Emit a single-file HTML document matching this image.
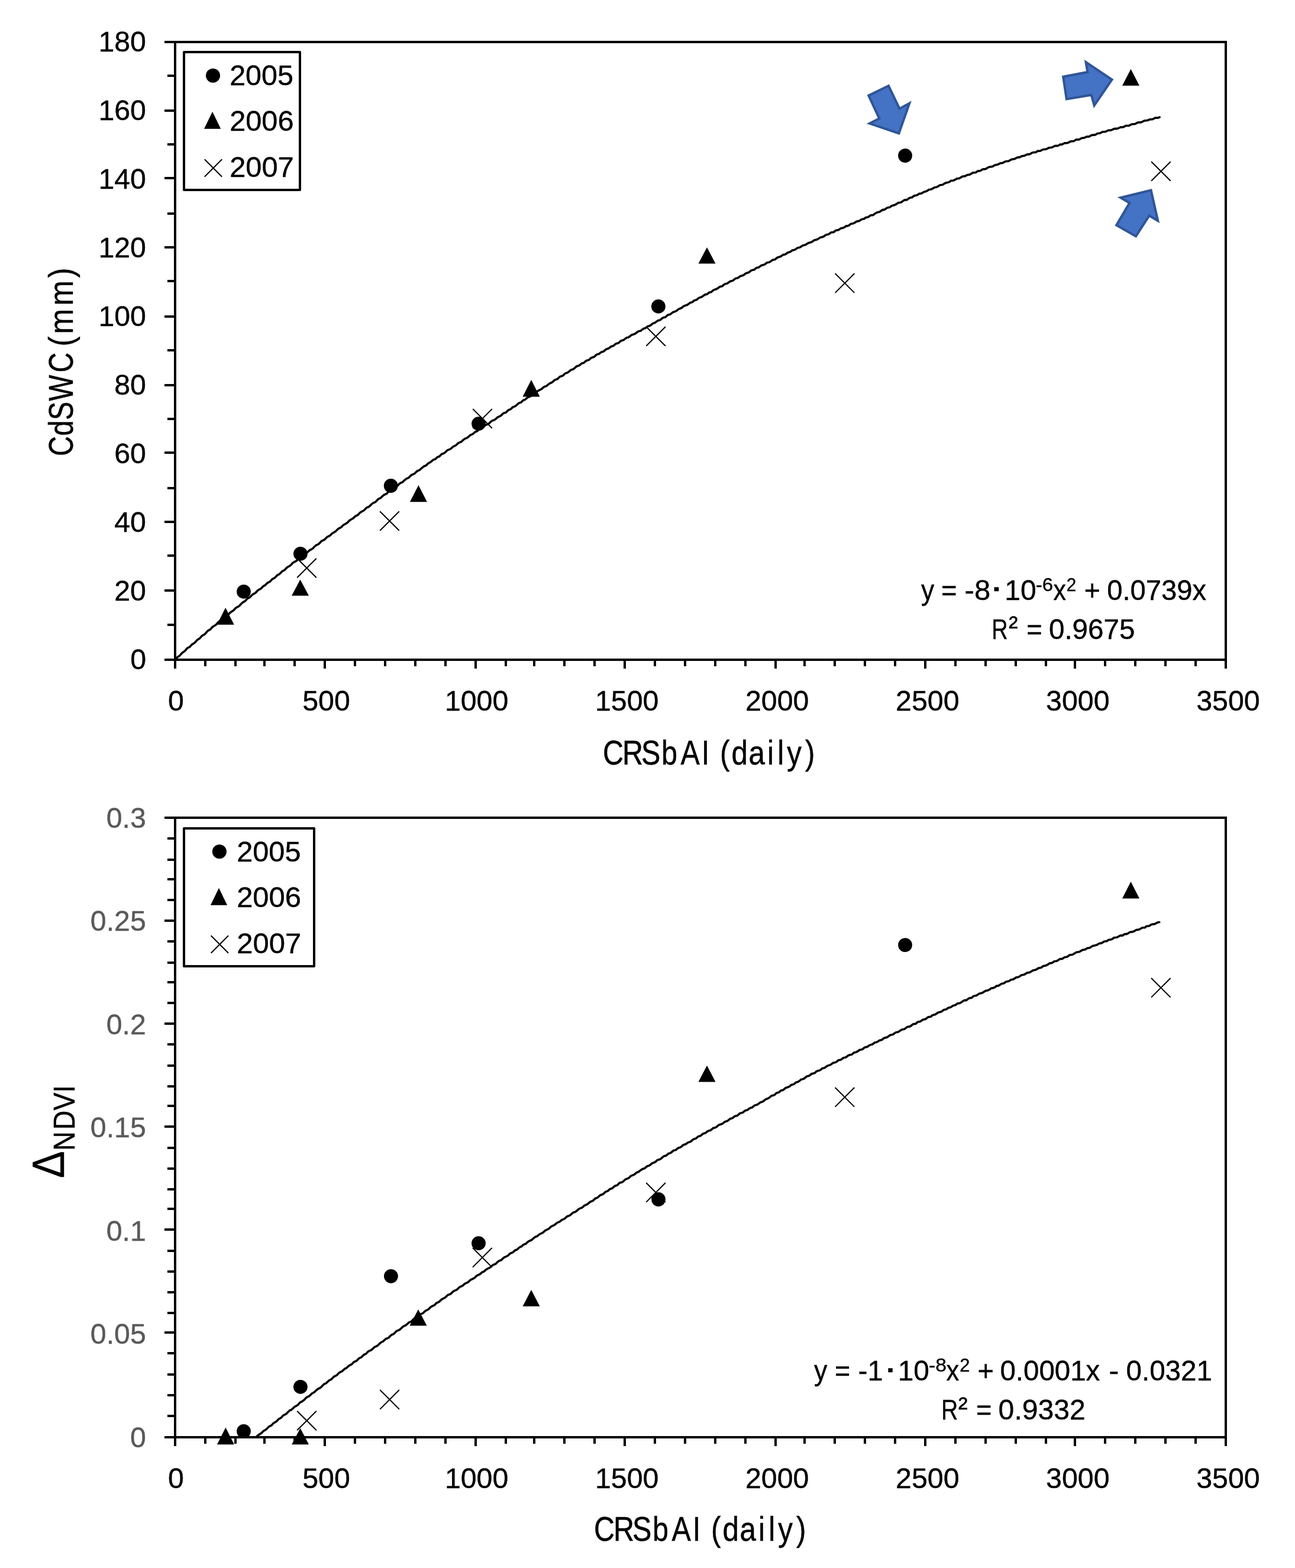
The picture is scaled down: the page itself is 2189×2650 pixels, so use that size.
<!DOCTYPE html>
<html lang="en"><head><meta charset="utf-8"><title>CdSWC and NDVI change versus CRSbAI</title>
<style>html,body{margin:0;padding:0;background:#fff;}body{width:2189px;height:2650px;overflow:hidden;}svg{display:block;}text{font-family:"Liberation Sans", sans-serif;}</style>
</head><body>
<svg width="2189" height="2650" viewBox="0 0 2189 2650">
<rect width="2189" height="2650" fill="#fff"/>
<g stroke="#000" stroke-width="4">
<line x1="296" y1="69" x2="296" y2="1130"/>
<line x1="2072" y1="69" x2="2072" y2="1130"/>
<line x1="278" y1="71" x2="2074" y2="71"/>
<line x1="278" y1="1115" x2="2074" y2="1115"/>
<line x1="283" y1="128" x2="296" y2="128"/>
<line x1="278" y1="187" x2="296" y2="187"/>
<line x1="283" y1="244" x2="296" y2="244"/>
<line x1="278" y1="301" x2="296" y2="301"/>
<line x1="283" y1="361" x2="296" y2="361"/>
<line x1="278" y1="418" x2="296" y2="418"/>
<line x1="283" y1="475" x2="296" y2="475"/>
<line x1="278" y1="535" x2="296" y2="535"/>
<line x1="283" y1="592" x2="296" y2="592"/>
<line x1="278" y1="651" x2="296" y2="651"/>
<line x1="283" y1="708" x2="296" y2="708"/>
<line x1="278" y1="765" x2="296" y2="765"/>
<line x1="283" y1="825" x2="296" y2="825"/>
<line x1="278" y1="882" x2="296" y2="882"/>
<line x1="283" y1="939" x2="296" y2="939"/>
<line x1="278" y1="998" x2="296" y2="998"/>
<line x1="283" y1="1056" x2="296" y2="1056"/>
<line x1="347" y1="1115" x2="347" y2="1126"/>
<line x1="398" y1="1115" x2="398" y2="1126"/>
<line x1="447" y1="1115" x2="447" y2="1126"/>
<line x1="498" y1="1115" x2="498" y2="1126"/>
<line x1="549" y1="1115" x2="549" y2="1130"/>
<line x1="600" y1="1115" x2="600" y2="1126"/>
<line x1="651" y1="1115" x2="651" y2="1126"/>
<line x1="702" y1="1115" x2="702" y2="1126"/>
<line x1="753" y1="1115" x2="753" y2="1126"/>
<line x1="804" y1="1115" x2="804" y2="1130"/>
<line x1="855" y1="1115" x2="855" y2="1126"/>
<line x1="903" y1="1115" x2="903" y2="1126"/>
<line x1="954" y1="1115" x2="954" y2="1126"/>
<line x1="1005" y1="1115" x2="1005" y2="1126"/>
<line x1="1056" y1="1115" x2="1056" y2="1130"/>
<line x1="1107" y1="1115" x2="1107" y2="1126"/>
<line x1="1158" y1="1115" x2="1158" y2="1126"/>
<line x1="1209" y1="1115" x2="1209" y2="1126"/>
<line x1="1260" y1="1115" x2="1260" y2="1126"/>
<line x1="1311" y1="1115" x2="1311" y2="1130"/>
<line x1="1360" y1="1115" x2="1360" y2="1126"/>
<line x1="1411" y1="1115" x2="1411" y2="1126"/>
<line x1="1462" y1="1115" x2="1462" y2="1126"/>
<line x1="1513" y1="1115" x2="1513" y2="1126"/>
<line x1="1564" y1="1115" x2="1564" y2="1130"/>
<line x1="1615" y1="1115" x2="1615" y2="1126"/>
<line x1="1666" y1="1115" x2="1666" y2="1126"/>
<line x1="1717" y1="1115" x2="1717" y2="1126"/>
<line x1="1768" y1="1115" x2="1768" y2="1126"/>
<line x1="1817" y1="1115" x2="1817" y2="1130"/>
<line x1="1868" y1="1115" x2="1868" y2="1126"/>
<line x1="1919" y1="1115" x2="1919" y2="1126"/>
<line x1="1970" y1="1115" x2="1970" y2="1126"/>
<line x1="2021" y1="1115" x2="2021" y2="1126"/>
</g>
<g stroke="#000" stroke-width="0.4">
<text x="166.39" y="87.4" font-size="48.8" textLength="80.61" lengthAdjust="spacingAndGlyphs">180</text>
<text x="166.39" y="203.4" font-size="48.8" textLength="80.61" lengthAdjust="spacingAndGlyphs">160</text>
<text x="166.39" y="319.4" font-size="48.8" textLength="80.61" lengthAdjust="spacingAndGlyphs">140</text>
<text x="166.39" y="435.4" font-size="48.8" textLength="80.61" lengthAdjust="spacingAndGlyphs">120</text>
<text x="166.39" y="551.4" font-size="48.8" textLength="80.61" lengthAdjust="spacingAndGlyphs">100</text>
<text x="193.26" y="667.4" font-size="48.8" textLength="53.74" lengthAdjust="spacingAndGlyphs">80</text>
<text x="193.26" y="783.4" font-size="48.8" textLength="53.74" lengthAdjust="spacingAndGlyphs">60</text>
<text x="193.26" y="899.4" font-size="48.8" textLength="53.74" lengthAdjust="spacingAndGlyphs">40</text>
<text x="193.26" y="1015.4" font-size="48.8" textLength="53.74" lengthAdjust="spacingAndGlyphs">20</text>
<text x="220.13" y="1131.4" font-size="48.8" textLength="26.87" lengthAdjust="spacingAndGlyphs">0</text>
</g>
<g stroke="#000" stroke-width="0.4">
<text x="284.07" y="1201.4" font-size="48.8" textLength="26.87" lengthAdjust="spacingAndGlyphs">0</text>
<text x="511.26" y="1201.4" font-size="48.8" textLength="80.61" lengthAdjust="spacingAndGlyphs">500</text>
<text x="751.88" y="1201.4" font-size="48.8" textLength="107.48" lengthAdjust="spacingAndGlyphs">1000</text>
<text x="1005.94" y="1201.4" font-size="48.8" textLength="107.48" lengthAdjust="spacingAndGlyphs">1500</text>
<text x="1260" y="1201.4" font-size="48.8" textLength="107.48" lengthAdjust="spacingAndGlyphs">2000</text>
<text x="1514.06" y="1201.4" font-size="48.8" textLength="107.48" lengthAdjust="spacingAndGlyphs">2500</text>
<text x="1768.12" y="1201.4" font-size="48.8" textLength="107.48" lengthAdjust="spacingAndGlyphs">3000</text>
<text x="2022.18" y="1201.4" font-size="48.8" textLength="107.48" lengthAdjust="spacingAndGlyphs">3500</text>
</g>
<text transform="translate(0 1291.6) scale(0.8501 1)" x="1198.73 1237.39 1275.01 1315.11 1353.24 1394.91" y="0" font-size="57" stroke="#000" stroke-width="0.5">CRSbAI</text>
<text transform="translate(0 1291.6) scale(0.8654 1)" x="1406.4 1428.84 1462.37 1498.62 1518.67 1537.24 1572.74" y="0" font-size="57" stroke="#000" stroke-width="0.5">(daily)</text>
<polyline points="296.5,1114.2 298.9,1111.6 301.2,1109.8 303.6,1108.1 306.0,1105.5 308.3,1103.0 310.7,1101.6 313.1,1099.6 315.4,1096.7 317.8,1094.7 320.2,1093.7 322.6,1091.3 324.9,1088.8 327.3,1087.6 329.7,1085.7 332.0,1083.1 334.3,1080.7 336.6,1079.7 338.9,1077.4 341.3,1074.8 343.6,1073.2 345.9,1072.1 348.2,1069.5 350.5,1066.8 353.0,1065.0 355.4,1064.0 357.9,1060.9 360.4,1058.7 362.9,1057.2 365.3,1055.7 367.8,1052.7 370.2,1050.4 372.5,1049.3 374.9,1047.9 377.2,1045.3 379.6,1043.0 381.9,1041.3 384.3,1040.1 386.6,1038.0 389.0,1035.5 391.3,1033.6 393.7,1032.4 396.0,1030.3 398.3,1027.7 400.6,1026.2 402.9,1025.1 405.2,1023.3 407.5,1020.7 409.8,1018.5 412.1,1017.1 414.4,1015.7 416.7,1013.1 419.0,1011.2 421.3,1010.2 423.6,1008.3 425.9,1005.6 428.2,1003.9 430.5,1002.9 432.8,1001.0 435.1,998.3 437.4,996.6 439.8,995.6 442.1,993.8 444.4,991.2 446.7,989.9 449.0,988.3 451.3,985.8 453.6,984.3 455.9,983.2 458.2,980.9 460.5,978.5 462.8,977.6 465.1,976.0 467.4,973.6 469.7,971.4 472.0,970.6 474.3,968.3 476.6,965.9 478.9,964.5 481.2,963.2 483.5,960.7 485.8,958.6 488.1,957.3 490.4,956.0 492.7,953.9 495.0,951.2 497.4,949.7 499.7,948.8 502.0,947.0 504.3,944.6 506.8,942.8 509.2,941.5 511.7,939.1 514.2,936.5 516.7,935.2 519.1,934.0 521.6,931.4 524.1,929.5 526.5,928.4 529.0,926.6 531.4,924.0 533.9,921.7 536.3,920.7 538.8,919.2 541.1,917.1 543.4,914.5 545.7,913.3 548.0,912.3 550.4,910.2 552.7,907.6 555.0,906.5 557.3,905.5 559.6,903.4 562.1,901.0 564.5,899.8 567.0,898.3 569.4,896.0 571.9,893.5 574.3,892.4 576.8,891.0 579.4,888.3 582.0,886.4 584.7,885.0 587.3,883.2 589.9,880.5 592.3,878.5 594.6,877.3 597.0,875.9 599.4,873.4 601.7,871.8 604.1,870.9 606.4,868.8 608.8,866.2 611.2,864.7 613.5,863.6 615.9,861.9 618.3,859.2 620.6,857.4 623.0,856.7 625.3,855.0 627.7,852.5 630.0,850.5 632.4,849.3 634.7,848.3 637.1,845.8 639.4,843.4 641.8,842.4 644.2,841.0 646.5,838.6 648.9,836.5 651.3,835.4 653.6,834.3 656.0,831.6 658.3,829.7 660.7,828.2 663.1,827.4 665.4,825.3 667.8,822.7 670.2,821.3 672.5,820.5 674.9,817.7 677.3,816.1 679.7,815.3 682.0,813.3 684.4,811.0 686.8,809.2 689.1,808.2 691.4,806.9 693.7,804.4 696.0,802.4 698.3,801.7 700.6,800.5 702.9,798.3 705.2,796.0 707.5,795.2 709.8,794.0 712.1,791.8 714.4,789.8 716.7,788.0 719.0,787.3 721.3,785.7 723.6,783.2 725.9,781.9 728.2,780.8 730.5,778.6 732.8,776.8 735.1,776.3 737.4,774.3 739.8,772.3 742.1,771.8 744.4,769.7 746.7,767.3 749.0,766.7 751.3,765.5 753.6,763.5 755.9,761.2 758.2,760.1 760.5,759.3 762.8,757.8 765.1,755.5 767.4,754.1 769.7,753.1 772.0,751.3 774.3,749.0 776.6,747.8 778.9,747.1 781.2,745.3 783.5,743.1 785.8,741.4 788.1,740.7 790.4,739.5 792.7,737.3 795.0,735.3 797.3,734.5 799.6,733.2 802.0,731.0 804.3,729.4 806.6,728.7 808.9,726.5 811.2,724.4 813.5,723.5 815.8,722.6 818.1,720.8 820.4,718.4 822.7,717.6 825.0,716.8 827.3,715.0 829.6,712.8 831.9,711.1 834.2,710.3 836.5,709.2 838.8,707.4 841.1,705.2 843.5,704.1 845.8,703.0 848.1,701.1 850.4,698.9 852.7,697.7 855.0,697.2 857.3,695.0 859.6,692.8 861.9,692.3 864.2,690.7 866.5,688.3 868.8,687.4 871.1,686.4 873.4,684.6 875.8,682.2 878.1,680.8 880.5,680.2 882.8,677.9 885.2,676.1 887.5,675.5 889.9,673.4 892.3,671.3 894.6,670.6 897.0,669.5 899.4,666.8 901.7,665.7 904.1,664.7 906.4,663.2 908.8,661.0 911.2,659.5 913.5,658.5 915.9,657.1 918.3,654.9 920.6,653.3 923.0,652.8 925.3,651.1 927.7,649.0 930.0,647.5 932.4,646.7 934.7,644.8 937.1,642.6 939.4,641.5 941.8,640.8 944.2,638.7 946.5,636.5 948.9,635.8 951.3,635.1 953.6,632.7 956.0,630.8 958.3,630.2 960.7,628.8 963.1,626.8 965.4,624.9 967.8,624.4 970.2,623.2 972.5,621.0 974.9,619.0 977.2,618.3 979.6,617.5 981.9,615.2 984.3,613.8 986.6,613.5 989.0,611.2 991.3,609.5 993.7,608.8 996.1,607.8 998.4,605.4 1000.8,604.2 1003.1,603.6 1005.5,602.1 1007.8,599.7 1010.2,598.7 1012.5,598.2 1014.9,596.0 1017.2,594.8 1019.6,594.2 1022.0,592.5 1024.3,590.4 1026.7,589.5 1029.0,588.7 1031.4,586.8 1033.7,585.2 1036.1,584.8 1038.4,583.2 1040.8,581.1 1043.1,580.2 1045.5,579.7 1047.9,577.5 1050.2,575.6 1052.6,575.2 1054.9,574.1 1057.3,572.0 1059.6,570.5 1062.0,570.2 1064.3,568.8 1066.7,566.7 1069.0,565.6 1071.4,565.0 1073.8,563.8 1076.2,562.0 1078.5,560.2 1080.9,559.6 1083.3,558.9 1085.7,556.9 1088.0,555.3 1090.4,554.8 1092.8,553.2 1095.2,551.3 1097.7,550.9 1100.1,549.6 1102.5,547.3 1104.9,546.0 1107.3,545.4 1109.8,543.4 1112.2,541.7 1114.6,541.2 1117.0,540.1 1119.3,537.8 1121.7,536.6 1124.1,536.3 1126.4,534.5 1128.8,532.2 1131.1,531.9 1133.5,530.8 1135.9,528.9 1138.2,527.2 1140.6,526.7 1143.0,525.7 1145.3,523.8 1147.7,522.1 1150.0,521.2 1152.4,520.3 1154.7,518.1 1157.1,516.7 1159.4,516.0 1161.8,515.2 1164.1,513.6 1166.5,511.6 1168.8,511.2 1171.2,509.9 1173.5,507.8 1175.9,507.3 1178.2,506.2 1180.5,504.0 1182.9,502.8 1185.2,502.3 1187.6,500.9 1189.9,499.1 1192.3,497.6 1194.6,497.4 1197.0,495.8 1199.4,494.0 1201.7,493.8 1204.1,491.8 1206.4,490.1 1208.8,489.3 1211.2,488.6 1213.5,487.0 1215.9,485.1 1218.3,484.1 1220.6,483.8 1223.0,481.7 1225.3,479.9 1227.7,479.4 1230.0,478.7 1232.4,476.7 1234.7,475.2 1237.1,474.8 1239.4,473.8 1241.8,471.7 1244.2,470.2 1246.5,470.0 1248.9,468.6 1251.3,466.8 1253.6,466.1 1256.0,465.5 1258.3,463.9 1260.7,461.9 1263.1,461.2 1265.4,460.5 1267.8,458.7 1270.2,456.9 1272.5,456.2 1274.9,456.0 1277.2,453.8 1279.6,452.3 1281.9,452.2 1284.3,450.6 1286.6,448.8 1289.0,448.0 1291.3,447.5 1293.7,446.1 1296.1,444.0 1298.4,443.6 1300.8,443.1 1303.1,441.4 1305.5,439.6 1307.8,439.0 1310.2,438.5 1312.5,436.4 1314.9,434.9 1317.2,434.2 1319.6,433.6 1322.0,431.7 1324.3,430.4 1326.7,430.1 1329.0,428.9 1331.4,427.0 1333.7,426.2 1336.1,425.6 1338.4,423.5 1340.8,422.6 1343.1,422.3 1345.5,420.8 1347.9,419.1 1350.2,418.6 1352.6,417.8 1354.9,416.2 1357.3,414.7 1359.6,414.2 1362.0,413.5 1364.3,411.9 1366.7,410.5 1369.0,409.9 1371.4,409.3 1373.8,407.9 1376.1,406.1 1378.5,405.4 1380.9,404.8 1383.2,403.6 1385.6,401.9 1387.9,401.0 1390.3,400.5 1392.7,399.5 1395.0,397.7 1397.4,396.5 1399.8,396.2 1402.1,395.0 1404.5,393.0 1406.8,392.6 1409.2,392.4 1411.5,390.3 1413.9,389.0 1416.2,389.0 1418.6,387.9 1420.9,386.1 1423.3,385.4 1425.7,384.9 1428.0,383.9 1430.4,381.7 1432.7,381.9 1435.1,380.9 1437.4,378.9 1439.8,378.0 1442.1,377.7 1444.5,376.6 1446.8,375.0 1449.2,373.9 1451.6,373.7 1453.9,372.5 1456.3,370.8 1458.6,370.3 1461.0,369.7 1463.3,367.6 1465.7,367.3 1468.0,366.7 1470.4,364.7 1472.7,363.5 1475.1,363.8 1477.6,362.2 1480.0,360.3 1482.5,359.0 1485.0,358.5 1487.4,357.8 1489.9,355.9 1492.3,354.4 1494.6,354.6 1497.0,353.0 1499.4,351.3 1501.7,350.8 1504.1,350.3 1506.4,348.4 1508.8,347.3 1511.2,346.9 1513.5,345.9 1515.9,344.4 1518.3,342.7 1520.6,342.4 1523.0,341.9 1525.3,340.4 1527.7,338.7 1530.0,337.8 1532.4,337.9 1534.7,336.4 1537.1,334.7 1539.4,333.9 1541.8,333.7 1544.2,331.5 1546.5,330.5 1548.9,330.2 1551.3,329.2 1553.6,327.4 1556.0,327.2 1558.3,326.5 1560.7,324.9 1563.1,323.9 1565.4,323.5 1567.8,322.1 1570.2,320.5 1572.5,320.2 1574.9,319.6 1577.2,318.2 1579.6,316.8 1581.9,316.4 1584.3,315.8 1586.6,314.2 1589.0,312.7 1591.3,312.5 1593.7,312.1 1596.1,310.4 1598.4,309.2 1600.8,308.5 1603.1,308.2 1605.5,307.0 1607.8,305.3 1610.2,305.2 1612.5,304.8 1614.9,303.4 1617.2,301.9 1619.6,301.8 1622.0,301.3 1624.3,299.8 1626.7,298.3 1629.0,297.9 1631.4,297.7 1633.7,296.2 1636.1,295.4 1638.4,295.3 1640.8,294.4 1643.1,292.5 1645.5,291.8 1647.9,291.8 1650.2,291.1 1652.6,289.0 1654.9,289.1 1657.3,288.5 1659.6,286.9 1662.0,285.8 1664.3,285.9 1666.7,285.3 1669.0,283.7 1671.4,282.5 1673.8,281.9 1676.1,281.8 1678.5,281.1 1680.9,279.4 1683.2,278.6 1685.6,278.3 1687.9,277.5 1690.3,276.1 1692.7,275.6 1695.0,275.4 1697.4,273.8 1699.8,272.8 1702.1,272.5 1704.5,272.4 1706.8,271.2 1709.2,269.8 1711.5,269.0 1713.9,268.9 1716.2,268.0 1718.6,266.5 1720.9,265.9 1723.3,265.9 1725.7,264.7 1728.0,263.6 1730.4,263.5 1732.7,262.8 1735.1,261.4 1737.4,260.6 1739.8,260.9 1742.1,259.8 1744.5,258.3 1746.8,257.6 1749.2,257.5 1751.6,257.1 1753.9,255.1 1756.3,255.3 1758.6,255.0 1761.0,253.6 1763.3,252.5 1765.7,252.4 1768.0,252.2 1770.4,251.1 1772.7,249.9 1775.1,249.5 1777.5,249.3 1780.0,248.3 1782.4,246.9 1784.9,246.3 1787.3,246.6 1789.8,245.6 1792.2,243.9 1794.7,244.4 1797.1,243.1 1799.5,241.9 1801.9,241.7 1804.4,241.6 1806.8,240.5 1809.2,239.1 1811.7,238.8 1814.1,238.8 1816.5,237.7 1818.9,236.1 1821.4,235.8 1823.8,236.0 1826.2,234.6 1828.7,233.2 1831.1,233.1 1833.5,232.8 1836.0,231.2 1838.4,230.9 1840.8,231.0 1843.2,229.5 1845.7,228.4 1848.1,228.1 1850.5,228.1 1853.0,226.8 1855.4,225.5 1857.8,225.3 1860.2,224.8 1862.7,223.3 1865.1,222.7 1867.6,222.8 1870.1,222.0 1872.7,220.5 1875.2,220.1 1877.7,220.2 1880.2,219.2 1882.8,217.8 1885.3,217.4 1887.6,217.6 1889.9,217.0 1892.2,215.8 1894.5,214.8 1896.8,215.0 1899.2,214.6 1901.5,213.2 1903.8,212.4 1906.1,212.5 1908.4,212.4 1910.7,211.0 1913.0,210.1 1915.3,209.7 1917.6,209.8 1919.9,208.9 1922.2,207.5 1924.5,206.8 1926.8,206.9 1929.1,206.6 1931.4,205.5 1933.7,204.3 1936.0,203.8 1938.4,203.8 1940.8,203.1 1943.2,201.9 1945.6,201.7 1948.0,201.6 1950.5,200.4 1952.9,199.1 1955.3,199.2 1957.7,199.1 1960.1,198.0" fill="none" stroke="#000" stroke-width="3.6" stroke-linecap="round" stroke-linejoin="round"/>
<g fill="#000">
<circle cx="412" cy="999.9" r="11.9"/>
<circle cx="507.9" cy="935.9" r="11.9"/>
<circle cx="660.7" cy="821" r="11.9"/>
<circle cx="809" cy="716.1" r="11.9"/>
<circle cx="1112.9" cy="517.9" r="11.9"/>
<circle cx="1530" cy="263" r="11.9"/>
<polygon points="381.2,1026.9 395.7,1055.7 366.7,1055.7"/>
<polygon points="507.5,979.6 522,1006.8 493,1006.8"/>
<polygon points="707.4,820 721.9,848.3 692.9,848.3"/>
<polygon points="898,642.1 912.5,670.4 883.5,670.4"/>
<polygon points="1195,418.1 1209.5,445.6 1180.5,445.6"/>
<polygon points="1911.5,116.8 1926,144.8 1897,144.8"/>
</g>
<g fill="none" stroke="#000" stroke-width="2">
<path d="M502.2 943.7L534.8 976.3M502.2 976.3L534.8 943.7"/>
<path d="M642.2 864.2L674.8 896.8M642.2 896.8L674.8 864.2"/>
<path d="M799.2 691.1L831.8 723.7M799.2 723.7L831.8 691.1"/>
<path d="M1092.3 552.2L1124.9 584.8M1092.3 584.8L1124.9 552.2"/>
<path d="M1411.7 462.3L1444.3 494.9M1411.7 494.9L1444.3 462.3"/>
<path d="M1946.1 273.2L1978.7 305.8M1946.1 305.8L1978.7 273.2"/>
</g>
<rect x="311" y="88" width="196" height="233" fill="#fff" stroke="#000" stroke-width="4" stroke-linejoin="round"/>
<g fill="#000">
<circle cx="360" cy="127.7" r="12.05"/>
<polygon points="359.1,188.7 373.2,217.8 345,217.8"/>
</g>
<g fill="none" stroke="#000" stroke-width="2">
<path d="M345.8 269.3L375.2 298.7M345.8 298.7L375.2 269.3"/>
</g>
<g stroke="#000" stroke-width="0.4">
<text x="388.18" y="144" font-size="48.8" textLength="107.79" lengthAdjust="spacingAndGlyphs">2005</text>
<text x="388.17" y="221.3" font-size="48.8" textLength="108.31" lengthAdjust="spacingAndGlyphs">2006</text>
<text x="388.16" y="299.2" font-size="48.8" textLength="108.51" lengthAdjust="spacingAndGlyphs">2007</text>
</g>
<text transform="translate(123.2 0) rotate(-90) translate(0 0) scale(0.8228 1)" x="-936.71 -895.19 -862.89 -823.71 -765.17" y="0" font-size="57" stroke="#000" stroke-width="0.5">CdSWC</text>
<text transform="translate(123.2 0) rotate(-90) translate(0 0) scale(0.8954 1)" x="-653.9 -630.48 -576.76 -524.28" y="0" font-size="57" stroke="#000" stroke-width="0.5">(mm)</text>
<polygon points="1501.94,145.01 1468.21,161.41 1486.25,200.16 1469.85,208.66 1519.46,225.37 1537.3,174.53 1520.49,183.65" fill="#4472C4" stroke="#2F5597" stroke-width="4" stroke-linejoin="miter"/>
<polygon points="1797.17,129.69 1802.8,167.51 1844.73,160.44 1849.65,178.38 1879.58,134.51 1835.5,104.99 1838.37,121.8" fill="#4472C4" stroke="#2F5597" stroke-width="4" stroke-linejoin="miter"/>
<polygon points="1945.57,321.47 1894.01,333.98 1909.28,343.1 1887.14,380.51 1920.05,399.37 1942.6,364.52 1957.25,373.24" fill="#4472C4" stroke="#2F5597" stroke-width="4" stroke-linejoin="miter"/>
<text font-size="48.8" stroke="#000" stroke-width="0.4"><tspan x="1557.07" y="1013.9" textLength="22.22" lengthAdjust="spacingAndGlyphs">y</tspan> <tspan x="1590.88" y="1013.9" textLength="26.44" lengthAdjust="spacingAndGlyphs">=</tspan> <tspan x="1630.64" y="1013.9" textLength="43.57" lengthAdjust="spacingAndGlyphs">-8</tspan><tspan x="1672.11" y="1012.3" font-size="62" textLength="24.89" lengthAdjust="spacingAndGlyphs">·</tspan><tspan x="1698.35" y="1013.9" textLength="53.44" lengthAdjust="spacingAndGlyphs">10</tspan><tspan x="1750.76" y="998.9" font-size="32" textLength="29.08" lengthAdjust="spacingAndGlyphs">-6</tspan><tspan x="1780.58" y="1013.9" textLength="21.49" lengthAdjust="spacingAndGlyphs">x</tspan><tspan x="1802.72" y="998.9" font-size="32" textLength="16.47" lengthAdjust="spacingAndGlyphs">2</tspan> <tspan x="1832.63" y="1013.9" textLength="27.04" lengthAdjust="spacingAndGlyphs">+</tspan> <tspan x="1871.26" y="1013.9" textLength="167.84" lengthAdjust="spacingAndGlyphs">0.0739x</tspan></text>
<text font-size="48.8" stroke="#000" stroke-width="0.4"><tspan x="1676.19" y="1079.6" textLength="27.4" lengthAdjust="spacingAndGlyphs">R</tspan><tspan x="1704.96" y="1075" font-size="48.8" textLength="15.63" lengthAdjust="spacingAndGlyphs">²</tspan> <tspan x="1735.18" y="1079.6" textLength="26.44" lengthAdjust="spacingAndGlyphs">=</tspan> <tspan x="1772.94" y="1079.6" textLength="145.48" lengthAdjust="spacingAndGlyphs">0.9675</tspan></text>
<g stroke="#000" stroke-width="4">
<line x1="296" y1="1380" x2="296" y2="2444"/>
<line x1="2072" y1="1380" x2="2072" y2="2444"/>
<line x1="278" y1="1382" x2="2074" y2="1382"/>
<line x1="278" y1="2429" x2="2074" y2="2429"/>
<line x1="283" y1="1417" x2="296" y2="1417"/>
<line x1="283" y1="1453" x2="296" y2="1453"/>
<line x1="283" y1="1486" x2="296" y2="1486"/>
<line x1="283" y1="1521" x2="296" y2="1521"/>
<line x1="278" y1="1556" x2="296" y2="1556"/>
<line x1="283" y1="1591" x2="296" y2="1591"/>
<line x1="283" y1="1627" x2="296" y2="1627"/>
<line x1="283" y1="1660" x2="296" y2="1660"/>
<line x1="283" y1="1695" x2="296" y2="1695"/>
<line x1="278" y1="1730" x2="296" y2="1730"/>
<line x1="283" y1="1765" x2="296" y2="1765"/>
<line x1="283" y1="1801" x2="296" y2="1801"/>
<line x1="283" y1="1836" x2="296" y2="1836"/>
<line x1="283" y1="1869" x2="296" y2="1869"/>
<line x1="278" y1="1904" x2="296" y2="1904"/>
<line x1="283" y1="1940" x2="296" y2="1940"/>
<line x1="283" y1="1975" x2="296" y2="1975"/>
<line x1="283" y1="2010" x2="296" y2="2010"/>
<line x1="283" y1="2043" x2="296" y2="2043"/>
<line x1="278" y1="2078" x2="296" y2="2078"/>
<line x1="283" y1="2114" x2="296" y2="2114"/>
<line x1="283" y1="2149" x2="296" y2="2149"/>
<line x1="283" y1="2184" x2="296" y2="2184"/>
<line x1="283" y1="2219" x2="296" y2="2219"/>
<line x1="278" y1="2252" x2="296" y2="2252"/>
<line x1="283" y1="2287" x2="296" y2="2287"/>
<line x1="283" y1="2323" x2="296" y2="2323"/>
<line x1="283" y1="2358" x2="296" y2="2358"/>
<line x1="283" y1="2393" x2="296" y2="2393"/>
<line x1="347" y1="2429" x2="347" y2="2440"/>
<line x1="398" y1="2429" x2="398" y2="2440"/>
<line x1="447" y1="2429" x2="447" y2="2440"/>
<line x1="498" y1="2429" x2="498" y2="2440"/>
<line x1="549" y1="2429" x2="549" y2="2444"/>
<line x1="600" y1="2429" x2="600" y2="2440"/>
<line x1="651" y1="2429" x2="651" y2="2440"/>
<line x1="702" y1="2429" x2="702" y2="2440"/>
<line x1="753" y1="2429" x2="753" y2="2440"/>
<line x1="804" y1="2429" x2="804" y2="2444"/>
<line x1="855" y1="2429" x2="855" y2="2440"/>
<line x1="903" y1="2429" x2="903" y2="2440"/>
<line x1="954" y1="2429" x2="954" y2="2440"/>
<line x1="1005" y1="2429" x2="1005" y2="2440"/>
<line x1="1056" y1="2429" x2="1056" y2="2444"/>
<line x1="1107" y1="2429" x2="1107" y2="2440"/>
<line x1="1158" y1="2429" x2="1158" y2="2440"/>
<line x1="1209" y1="2429" x2="1209" y2="2440"/>
<line x1="1260" y1="2429" x2="1260" y2="2440"/>
<line x1="1311" y1="2429" x2="1311" y2="2444"/>
<line x1="1360" y1="2429" x2="1360" y2="2440"/>
<line x1="1411" y1="2429" x2="1411" y2="2440"/>
<line x1="1462" y1="2429" x2="1462" y2="2440"/>
<line x1="1513" y1="2429" x2="1513" y2="2440"/>
<line x1="1564" y1="2429" x2="1564" y2="2444"/>
<line x1="1615" y1="2429" x2="1615" y2="2440"/>
<line x1="1666" y1="2429" x2="1666" y2="2440"/>
<line x1="1717" y1="2429" x2="1717" y2="2440"/>
<line x1="1768" y1="2429" x2="1768" y2="2440"/>
<line x1="1817" y1="2429" x2="1817" y2="2444"/>
<line x1="1868" y1="2429" x2="1868" y2="2440"/>
<line x1="1919" y1="2429" x2="1919" y2="2440"/>
<line x1="1970" y1="2429" x2="1970" y2="2440"/>
<line x1="2021" y1="2429" x2="2021" y2="2440"/>
</g>
<g stroke="#595959" stroke-width="0.4">
<text x="179.64" y="1398.8" font-size="48.8" textLength="67.16" lengthAdjust="spacingAndGlyphs" fill="#595959">0.3</text>
<text x="152.77" y="1573.3" font-size="48.8" textLength="94.03" lengthAdjust="spacingAndGlyphs" fill="#595959">0.25</text>
<text x="179.64" y="1747.8" font-size="48.8" textLength="67.16" lengthAdjust="spacingAndGlyphs" fill="#595959">0.2</text>
<text x="152.77" y="1922.3" font-size="48.8" textLength="94.03" lengthAdjust="spacingAndGlyphs" fill="#595959">0.15</text>
<text x="179.64" y="2096.8" font-size="48.8" textLength="67.16" lengthAdjust="spacingAndGlyphs" fill="#595959">0.1</text>
<text x="152.77" y="2271.3" font-size="48.8" textLength="94.03" lengthAdjust="spacingAndGlyphs" fill="#595959">0.05</text>
<text x="219.93" y="2445.8" font-size="48.8" textLength="26.87" lengthAdjust="spacingAndGlyphs" fill="#595959">0</text>
</g>
<g stroke="#000" stroke-width="0.4">
<text x="284.07" y="2515.4" font-size="48.8" textLength="26.87" lengthAdjust="spacingAndGlyphs">0</text>
<text x="511.26" y="2515.4" font-size="48.8" textLength="80.61" lengthAdjust="spacingAndGlyphs">500</text>
<text x="751.88" y="2515.4" font-size="48.8" textLength="107.48" lengthAdjust="spacingAndGlyphs">1000</text>
<text x="1005.94" y="2515.4" font-size="48.8" textLength="107.48" lengthAdjust="spacingAndGlyphs">1500</text>
<text x="1260" y="2515.4" font-size="48.8" textLength="107.48" lengthAdjust="spacingAndGlyphs">2000</text>
<text x="1514.06" y="2515.4" font-size="48.8" textLength="107.48" lengthAdjust="spacingAndGlyphs">2500</text>
<text x="1768.12" y="2515.4" font-size="48.8" textLength="107.48" lengthAdjust="spacingAndGlyphs">3000</text>
<text x="2022.18" y="2515.4" font-size="48.8" textLength="107.48" lengthAdjust="spacingAndGlyphs">3500</text>
</g>
<text transform="translate(0 2603.7) scale(0.8501 1)" x="1181.08 1219.74 1257.37 1297.46 1335.6 1377.27" y="0" font-size="57" stroke="#000" stroke-width="0.5">CRSbAI</text>
<text transform="translate(0 2603.7) scale(0.8654 1)" x="1389.06 1411.51 1445.04 1481.29 1501.34 1519.91 1555.41" y="0" font-size="57" stroke="#000" stroke-width="0.5">(daily)</text>
<polyline points="434.2,2427.6 436.5,2425.4 438.8,2423.9 441.0,2422.7 443.3,2420.6 445.6,2418.3 447.9,2417.1 450.2,2415.6 452.4,2413.2 454.7,2411.0 457.0,2409.8 459.3,2408.6 461.6,2405.8 463.9,2404.3 466.2,2403.0 468.6,2401.1 470.9,2398.4 473.2,2397.2 475.5,2395.9 477.8,2393.2 480.2,2391.2 482.5,2390.4 484.9,2388.5 487.2,2386.0 489.6,2383.8 491.9,2383.0 494.3,2381.1 496.6,2378.7 499.0,2376.9 501.3,2375.8 503.7,2374.3 506.0,2371.4 508.3,2369.5 510.6,2368.6 512.9,2367.1 515.2,2364.8 517.5,2362.3 519.8,2360.7 522.1,2359.9 524.4,2357.9 526.8,2355.4 529.2,2354.0 531.7,2352.6 534.1,2350.2 536.5,2348.1 538.9,2346.6 541.3,2345.5 543.8,2343.3 546.2,2340.7 548.6,2338.7 551.0,2337.9 553.4,2335.6 555.9,2333.2 558.3,2332.2 560.7,2330.6 563.1,2327.9 565.5,2326.0 568.0,2324.9 570.4,2323.2 572.8,2320.4 575.3,2318.8 577.8,2317.7 580.3,2315.8 582.8,2313.2 585.3,2312.3 587.8,2310.0 590.3,2307.9 592.8,2306.7 595.3,2305.0 597.6,2302.4 599.9,2301.0 602.2,2300.2 604.5,2297.9 606.8,2295.7 609.1,2294.7 611.4,2293.4 613.7,2290.8 616.0,2289.0 618.3,2288.4 620.6,2285.9 622.9,2283.7 625.4,2282.6 627.9,2281.3 630.4,2279.1 632.9,2276.7 635.4,2275.6 637.9,2274.4 640.4,2272.0 642.9,2269.6 645.4,2268.0 647.9,2266.8 650.3,2264.3 652.8,2262.3 655.3,2261.7 657.8,2260.0 660.2,2257.2 662.7,2255.6 665.2,2254.6 667.7,2252.3 670.2,2249.7 672.7,2248.5 675.1,2247.6 677.6,2245.4 680.1,2242.9 682.6,2241.2 685.1,2240.2 687.4,2238.5 689.8,2236.2 692.1,2234.5 694.5,2233.9 696.8,2231.7 699.2,2229.3 701.5,2227.7 703.9,2226.8 706.2,2225.1 708.6,2222.7 710.9,2221.2 713.3,2220.2 715.6,2218.7 718.0,2216.2 720.4,2214.7 722.8,2213.7 725.2,2211.9 727.7,2209.3 730.1,2207.7 732.5,2206.6 734.9,2205.3 737.3,2202.5 739.7,2201.4 742.2,2200.1 744.6,2197.9 747.1,2195.6 749.6,2194.4 752.1,2193.1 754.5,2191.1 757.0,2188.6 759.4,2187.7 761.7,2186.8 764.1,2184.6 766.4,2182.3 768.8,2181.1 771.1,2180.3 773.5,2178.6 775.8,2176.3 778.2,2174.5 780.5,2173.6 782.9,2172.1 785.3,2169.8 787.7,2168.5 790.2,2167.7 792.6,2165.6 795.0,2163.3 797.4,2162.0 799.8,2161.0 802.3,2159.4 804.7,2156.9 807.1,2155.3 809.5,2154.4 811.9,2152.9 814.4,2150.4 816.8,2149.5 819.2,2148.1 821.6,2145.7 824.0,2144.2 826.5,2143.1 828.9,2141.7 831.3,2139.6 833.6,2137.6 835.9,2136.8 838.2,2135.8 840.5,2133.3 842.9,2131.3 845.2,2130.3 847.5,2129.5 849.8,2127.1 852.1,2125.1 854.4,2124.1 856.7,2123.0 859.0,2121.7 861.3,2119.3 863.6,2117.7 865.9,2117.1 868.2,2115.3 870.5,2113.2 872.8,2112.3 875.1,2111.1 877.4,2108.6 879.7,2107.3 882.0,2106.4 884.3,2103.8 886.6,2102.8 888.9,2102.1 891.2,2099.8 893.5,2097.8 895.8,2096.8 898.1,2096.0 900.4,2094.2 902.7,2092.0 905.1,2090.3 907.4,2089.5 909.7,2088.0 912.0,2086.0 914.3,2084.7 916.7,2083.9 919.1,2082.0 921.6,2079.6 924.0,2078.4 926.4,2077.4 928.8,2075.7 931.2,2073.3 933.7,2071.8 936.1,2070.9 938.5,2069.3 940.8,2067.2 943.1,2065.9 945.4,2065.1 947.7,2063.4 950.0,2061.4 952.3,2060.8 954.6,2059.5 956.9,2057.2 959.2,2055.5 961.5,2054.8 963.8,2053.7 966.1,2051.5 968.4,2049.5 970.7,2048.8 973.0,2047.8 975.3,2046.1 977.6,2043.9 979.9,2042.4 982.4,2041.6 984.9,2040.2 987.4,2037.7 989.9,2036.5 992.4,2035.5 994.9,2033.6 997.4,2031.2 999.9,2030.3 1002.3,2029.2 1004.6,2027.0 1007.0,2025.0 1009.4,2024.4 1011.7,2022.6 1014.1,2020.2 1016.4,2019.3 1018.8,2018.5 1021.2,2016.5 1023.5,2014.2 1025.9,2013.4 1028.3,2012.3 1030.6,2009.8 1033.0,2009.0 1035.3,2008.0 1037.7,2005.7 1040.0,2004.0 1042.4,2003.4 1044.7,2001.8 1047.1,1999.3 1049.4,1998.5 1051.8,1997.9 1054.2,1996.1 1056.5,1993.8 1058.9,1992.4 1061.3,1991.6 1063.6,1990.4 1066.0,1987.7 1068.3,1986.6 1070.7,1985.8 1073.1,1984.4 1075.4,1982.1 1077.8,1981.0 1080.2,1980.0 1082.5,1978.0 1084.9,1976.4 1087.2,1975.2 1089.6,1974.7 1091.9,1972.5 1094.3,1970.7 1096.6,1970.2 1099.0,1968.9 1101.3,1966.7 1103.7,1965.4 1106.1,1964.6 1108.5,1963.1 1110.9,1960.8 1113.3,1959.9 1115.7,1959.2 1118.1,1957.6 1120.4,1955.4 1122.8,1953.6 1125.2,1953.5 1127.6,1951.7 1130.0,1949.6 1132.4,1948.9 1134.8,1947.6 1137.2,1945.4 1139.5,1944.0 1141.9,1943.8 1144.2,1941.9 1146.6,1940.0 1148.9,1939.4 1151.3,1938.4 1153.6,1936.1 1156.0,1934.6 1158.3,1934.1 1160.7,1932.6 1163.1,1930.7 1165.4,1930.2 1167.8,1929.1 1170.1,1926.9 1172.5,1925.2 1174.8,1924.6 1177.2,1923.6 1179.5,1921.1 1181.9,1920.2 1184.2,1919.6 1186.6,1917.5 1189.0,1915.7 1191.3,1915.2 1193.7,1914.0 1196.0,1911.9 1198.4,1910.8 1200.7,1910.4 1203.1,1908.8 1205.4,1906.6 1207.8,1905.9 1210.1,1905.3 1212.5,1903.3 1214.9,1901.4 1217.2,1900.5 1219.6,1899.8 1222.0,1898.5 1224.3,1896.5 1226.7,1895.2 1229.0,1894.8 1231.4,1893.2 1233.8,1891.0 1236.1,1890.2 1238.5,1889.6 1240.9,1887.2 1243.2,1886.1 1245.6,1885.8 1247.9,1884.1 1250.3,1881.8 1252.6,1881.1 1255.0,1880.6 1257.3,1878.7 1259.7,1877.0 1262.0,1876.3 1264.4,1875.3 1266.8,1873.1 1269.1,1872.3 1271.5,1871.7 1273.8,1869.7 1276.2,1867.8 1278.5,1867.5 1280.9,1866.4 1283.2,1864.6 1285.6,1862.9 1287.9,1862.3 1290.3,1861.1 1292.7,1859.1 1295.1,1857.4 1297.5,1856.7 1299.9,1855.5 1302.3,1853.4 1304.6,1851.6 1307.0,1851.2 1309.4,1850.4 1311.7,1847.9 1314.1,1846.7 1316.4,1846.2 1318.8,1844.2 1321.2,1842.5 1323.5,1842.5 1325.9,1840.4 1328.3,1838.5 1330.6,1837.8 1333.0,1837.1 1335.3,1835.6 1337.7,1833.3 1340.0,1832.9 1342.4,1832.1 1344.7,1829.8 1347.1,1828.9 1349.4,1828.2 1351.8,1826.3 1354.2,1824.3 1356.5,1823.9 1358.9,1823.0 1361.3,1821.2 1363.6,1819.2 1366.0,1818.6 1368.3,1817.9 1370.7,1815.7 1373.1,1814.4 1375.4,1814.1 1377.8,1813.1 1380.2,1810.6 1382.5,1809.6 1384.9,1809.2 1387.2,1808.0 1389.6,1805.8 1391.9,1805.2 1394.3,1804.5 1396.6,1802.6 1399.0,1801.1 1401.3,1800.4 1403.7,1799.6 1406.1,1797.9 1408.4,1796.2 1410.8,1795.8 1413.1,1795.1 1415.5,1793.2 1417.8,1791.5 1420.2,1791.4 1422.5,1790.3 1424.9,1788.2 1427.2,1787.4 1429.6,1786.9 1432.0,1785.4 1434.3,1783.5 1436.7,1782.7 1439.0,1782.5 1441.4,1780.9 1443.7,1779.0 1446.1,1778.4 1448.4,1777.6 1450.8,1776.1 1453.1,1774.2 1455.5,1774.0 1457.9,1773.3 1460.2,1771.3 1462.6,1769.6 1464.9,1769.7 1467.3,1768.4 1469.6,1766.6 1472.0,1765.6 1474.3,1765.2 1476.7,1763.5 1479.0,1761.7 1481.4,1761.5 1483.8,1760.4 1486.1,1758.6 1488.5,1757.9 1490.9,1757.3 1493.2,1755.2 1495.6,1753.9 1497.9,1753.6 1500.3,1752.6 1502.7,1750.8 1505.0,1749.2 1507.4,1748.7 1509.8,1748.2 1512.1,1746.2 1514.5,1744.8 1516.8,1744.3 1519.2,1743.7 1521.5,1741.9 1523.9,1740.3 1526.2,1739.7 1528.6,1739.2 1530.9,1737.7 1533.3,1735.8 1535.7,1735.1 1538.0,1734.9 1540.4,1733.4 1542.7,1731.2 1545.1,1730.5 1547.4,1730.5 1549.8,1728.5 1552.1,1726.8 1554.5,1726.8 1556.8,1725.6 1559.2,1723.8 1561.6,1722.9 1563.9,1722.6 1566.3,1721.0 1568.6,1719.1 1571.0,1718.6 1573.3,1718.3 1575.7,1716.1 1578.0,1715.1 1580.4,1714.8 1582.7,1713.4 1585.1,1711.5 1587.6,1710.7 1590.0,1710.2 1592.5,1708.9 1595.0,1706.8 1597.4,1706.2 1599.9,1705.7 1602.3,1703.7 1604.6,1702.8 1607.0,1702.4 1609.4,1700.6 1611.7,1699.3 1614.1,1699.0 1616.4,1697.6 1618.8,1695.7 1621.2,1695.8 1623.5,1694.9 1625.9,1693.2 1628.3,1691.6 1630.6,1690.4 1633.0,1690.6 1635.3,1689.2 1637.7,1687.2 1640.0,1686.6 1642.4,1686.4 1644.7,1684.2 1647.1,1683.0 1649.4,1682.8 1651.8,1681.6 1654.2,1679.9 1656.5,1678.9 1658.9,1678.5 1661.3,1677.6 1663.6,1676.0 1666.0,1674.4 1668.3,1674.3 1670.7,1673.4 1673.1,1672.2 1675.4,1670.2 1677.8,1669.9 1680.2,1669.3 1682.5,1668.0 1684.9,1666.0 1687.2,1666.3 1689.6,1664.9 1691.9,1663.2 1694.3,1662.2 1696.6,1662.0 1699.0,1660.2 1701.3,1659.0 1703.7,1658.5 1706.1,1658.0 1708.4,1656.0 1710.8,1655.4 1713.1,1654.9 1715.5,1653.4 1717.8,1651.8 1720.2,1651.6 1722.5,1650.9 1724.9,1649.1 1727.2,1647.7 1729.6,1647.5 1732.0,1646.8 1734.3,1645.2 1736.7,1643.9 1739.0,1643.9 1741.4,1642.9 1743.7,1641.5 1746.1,1639.9 1748.4,1639.6 1750.8,1638.9 1753.1,1637.6 1755.5,1636.1 1757.9,1635.7 1760.2,1635.3 1762.6,1633.2 1764.9,1632.3 1767.3,1632.0 1769.6,1631.0 1772.0,1629.6 1774.3,1627.9 1776.7,1627.7 1779.0,1627.0 1781.4,1625.1 1783.8,1624.5 1786.1,1624.2 1788.5,1622.9 1790.9,1621.1 1793.2,1620.6 1795.6,1620.5 1797.9,1618.8 1800.3,1617.5 1802.7,1617.5 1805.0,1616.4 1807.4,1614.3 1809.8,1613.8 1812.1,1613.5 1814.5,1612.6 1816.8,1611.0 1819.2,1609.5 1821.5,1609.0 1823.9,1608.8 1826.2,1607.6 1828.6,1606.1 1830.9,1605.1 1833.3,1605.0 1835.7,1603.9 1838.0,1602.3 1840.4,1602.3 1842.7,1601.4 1845.1,1599.8 1847.4,1598.5 1849.8,1598.1 1852.1,1597.6 1854.5,1596.8 1856.8,1595.1 1859.2,1594.1 1861.6,1594.3 1863.9,1592.8 1866.3,1591.2 1868.6,1590.8 1871.0,1590.7 1873.3,1588.7 1875.7,1588.0 1878.0,1587.9 1880.4,1586.8 1882.7,1584.9 1885.1,1584.5 1887.5,1584.3 1890.0,1583.2 1892.4,1581.7 1894.9,1580.9 1897.3,1581.2 1899.8,1579.3 1902.1,1578.5 1904.4,1578.6 1906.7,1577.4 1909.0,1575.9 1911.3,1575.1 1913.6,1574.9 1915.9,1574.3 1918.2,1573.2 1920.7,1571.5 1923.1,1571.4 1925.6,1570.8 1928.1,1569.5 1930.6,1568.0 1933.0,1567.8 1935.5,1567.6 1938.0,1565.3 1940.4,1565.3 1942.9,1564.7 1945.4,1562.9 1947.9,1562.0 1950.3,1561.9 1952.8,1561.3 1955.1,1559.8 1957.4,1558.8 1959.7,1558.5" fill="none" stroke="#000" stroke-width="3.6" stroke-linecap="round" stroke-linejoin="round"/>
<g fill="#000">
<circle cx="412" cy="2419" r="11.9"/>
<circle cx="507.9" cy="2343.9" r="11.9"/>
<circle cx="660.9" cy="2156.8" r="11.9"/>
<circle cx="809" cy="2101.2" r="11.9"/>
<circle cx="1113" cy="2027" r="11.9"/>
<circle cx="1530" cy="1597.1" r="11.9"/>
<polygon points="381.4,2412.5 395.9,2441.3 366.9,2441.3"/>
<polygon points="507.6,2413.7 522.1,2441.3 493.1,2441.3"/>
<polygon points="707,2213 721.5,2240.6 692.5,2240.6"/>
<polygon points="898,2180 912.5,2207.7 883.5,2207.7"/>
<polygon points="1195,1800.8 1209.5,1828.5 1180.5,1828.5"/>
<polygon points="1911.5,1490.1 1926,1518.6 1897,1518.6"/>
</g>
<g fill="none" stroke="#000" stroke-width="2">
<path d="M502.2 2384.7L534.8 2417.3M502.2 2417.3L534.8 2384.7"/>
<path d="M642.3 2349L674.9 2381.6M642.3 2381.6L674.9 2349"/>
<path d="M799 2109L831.6 2141.6M799 2141.6L831.6 2109"/>
<path d="M1092.3 1999L1124.9 2031.6M1092.3 2031.6L1124.9 1999"/>
<path d="M1411.6 1838L1444.2 1870.6M1411.6 1870.6L1444.2 1838"/>
<path d="M1946 1653L1978.6 1685.6M1946 1685.6L1978.6 1653"/>
</g>
<rect x="311" y="1400" width="220" height="233" fill="#fff" stroke="#000" stroke-width="4" stroke-linejoin="round"/>
<g fill="#000">
<circle cx="370.9" cy="1439.3" r="12.05"/>
<polygon points="370,1500.7 384.1,1529.8 355.9,1529.8"/>
</g>
<g fill="none" stroke="#000" stroke-width="2">
<path d="M356.7 1581.3L386.1 1610.7M356.7 1610.7L386.1 1581.3"/>
</g>
<g stroke="#000" stroke-width="0.4">
<text x="400.17" y="1455.6" font-size="48.8" textLength="108.31" lengthAdjust="spacingAndGlyphs">2005</text>
<text x="400.15" y="1533.3" font-size="48.8" textLength="108.83" lengthAdjust="spacingAndGlyphs">2006</text>
<text x="400.15" y="1611.2" font-size="48.8" textLength="109.03" lengthAdjust="spacingAndGlyphs">2007</text>
</g>
<text transform="translate(108.2 0) rotate(-90) translate(0 0) scale(0.9015 1)" x="-2208.58" y="0" font-size="75.9" stroke="#000" stroke-width="0.5">Δ</text>
<text transform="translate(126.2 0) rotate(-90) translate(0 0) scale(0.9034 1)" x="-2152.74 -2113.54 -2077.24 -2043.94" y="0" font-size="49.7" stroke="#000" stroke-width="0.5">NDVI</text>
<text font-size="48.8" stroke="#000" stroke-width="0.4"><tspan x="1376.07" y="2333.3" textLength="22.42" lengthAdjust="spacingAndGlyphs">y</tspan> <tspan x="1411.1" y="2333.3" textLength="26.2" lengthAdjust="spacingAndGlyphs">=</tspan> <tspan x="1450.84" y="2333.3" textLength="41.67" lengthAdjust="spacingAndGlyphs">-1</tspan><tspan x="1492.96" y="2331.7" font-size="62" textLength="24.19" lengthAdjust="spacingAndGlyphs">·</tspan><tspan x="1517.66" y="2333.3" textLength="53.22" lengthAdjust="spacingAndGlyphs">10</tspan><tspan x="1570.02" y="2318.3" font-size="32" textLength="29.93" lengthAdjust="spacingAndGlyphs">-8</tspan><tspan x="1599.38" y="2333.3" textLength="21.8" lengthAdjust="spacingAndGlyphs">x</tspan><tspan x="1622.25" y="2318.3" font-size="32" textLength="17.2" lengthAdjust="spacingAndGlyphs">2</tspan> <tspan x="1652.49" y="2333.3" textLength="27.52" lengthAdjust="spacingAndGlyphs">+</tspan> <tspan x="1690.45" y="2333.3" textLength="168.85" lengthAdjust="spacingAndGlyphs">0.0001x</tspan> <tspan x="1874.47" y="2333.3" textLength="16.85" lengthAdjust="spacingAndGlyphs">-</tspan> <tspan x="1903.44" y="2333.3" textLength="145.62" lengthAdjust="spacingAndGlyphs">0.0321</tspan></text>
<text font-size="48.8" stroke="#000" stroke-width="0.4"><tspan x="1591.08" y="2399.1" textLength="28.38" lengthAdjust="spacingAndGlyphs">R</tspan><tspan x="1619.84" y="2394.5" font-size="48.8" textLength="15.97" lengthAdjust="spacingAndGlyphs">²</tspan> <tspan x="1650.09" y="2399.1" textLength="26.32" lengthAdjust="spacingAndGlyphs">=</tspan> <tspan x="1687.62" y="2399.1" textLength="147.21" lengthAdjust="spacingAndGlyphs">0.9332</tspan></text>
</svg></body></html>
